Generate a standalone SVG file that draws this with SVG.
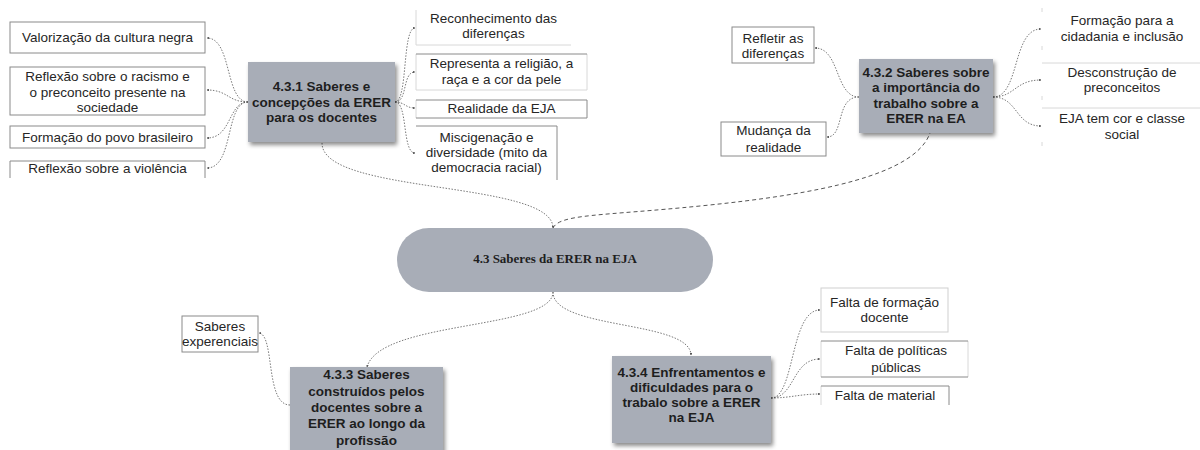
<svg xmlns="http://www.w3.org/2000/svg" width="1200" height="450" viewBox="0 0 1200 450">
<style>
.node{fill:#a8adb7;filter:url(#sh)}
.nt{font-family:"Liberation Sans",Arial,sans-serif;font-weight:bold;font-size:13.5px;fill:#1e1e1e;text-anchor:middle}
.bt{font-family:"Liberation Sans",Arial,sans-serif;font-size:13.5px;fill:#262626;text-anchor:middle}
.box{fill:#fff;stroke:#8a8a8a;stroke-width:1}
.bd{stroke:#8a8a8a;stroke-width:1;fill:none}
.bl{stroke:#d8d8d8;stroke-width:1;fill:none}
.c{fill:none;stroke:#555;stroke-width:0.8;stroke-dasharray:1.5 1.5;marker-end:url(#ah)}
.cd{fill:none;stroke:#555;stroke-width:1;stroke-dasharray:4 3}
</style>
<defs>
<filter id="sh" x="-10%" y="-10%" width="125%" height="130%">
<feDropShadow dx="2" dy="3" stdDeviation="2" flood-color="#000" flood-opacity="0.45"/>
</filter>
<marker id="ah" viewBox="0 0 6 6" refX="5" refY="3" markerWidth="3" markerHeight="3" orient="auto">
<path d="M0,0 L6,3 L0,6 z" fill="#555"/>
</marker>
</defs>
<rect width="1200" height="450" fill="#fff"/>

<g id="connectors">
<path class="c" d="M322,143 C322,195 553,180 553,228"/>
<path class="cd" d="M553,228 C560,214 600,216 700,206 C820,194 915,175 930,133"/>
<path class="c" d="M553,292 C553,330 380,320 367,367"/>
<path class="c" d="M553,292 C553,330 690,320 691,355"/>
<path class="c" d="M290,405 C265,405 275,335 259,333"/>
<path class="c" d="M248,102 C225,102 232,38 207,38"/>
<path class="c" d="M248,102 C228,102 228,90 207,90"/>
<path class="c" d="M248,102 C228,102 232,138 207,138"/>
<path class="c" d="M248,102 C225,102 234,168 207,168"/>
<path class="c" d="M395,102 C408,102 402,28 415,28"/>
<path class="c" d="M395,102 C408,102 402,72 415,72"/>
<path class="c" d="M395,102 C405,102 405,108 415,108"/>
<path class="c" d="M395,102 C408,102 402,153 415,153"/>
<path class="c" d="M859,97 C835,97 840,48 815,48"/>
<path class="c" d="M859,97 C835,97 845,137 827,137"/>
<path class="c" d="M993,97 C1020,97 1012,29 1041,29"/>
<path class="c" d="M993,97 C1015,97 1015,80 1041,80"/>
<path class="c" d="M993,97 C1018,97 1015,126 1041,126"/>
<path class="c" d="M771,398 C795,398 790,310 820,310"/>
<path class="c" d="M771,398 C795,398 792,359 820,359"/>
<path class="c" d="M771,398 C790,398 800,394 820,394"/>
</g>

<g id="n43">
<rect class="node" x="397" y="228" width="316" height="64" rx="32" ry="32" style="filter:none"/>
<text x="555" y="263" style="font-family:'Liberation Serif','Times New Roman',serif;font-weight:bold;font-size:13px;fill:#1e1e1e;text-anchor:middle">4.3 Saberes da ERER na EJA</text>
</g>

<g id="n431">
<rect class="node" x="248" y="62" width="147" height="80"/>
<text class="nt" x="321.5" y="91">4.3.1 Saberes e</text>
<text class="nt" x="321.5" y="107">concepções da ERER</text>
<text class="nt" x="321.5" y="122">para os docentes</text>
</g>

<g id="b431a"><rect class="box" x="10" y="22" width="195" height="31"/><text class="bt" x="107.5" y="42">Valorização da cultura negra</text></g>
<g id="b431b"><rect class="box" x="10" y="67" width="195" height="48"/><text class="bt" x="107.5" y="81">Reflexão sobre o racismo e</text><text class="bt" x="107.5" y="97">o preconceito presente na</text><text class="bt" x="107.5" y="112">sociedade</text></g>
<g id="b431c"><rect class="box" x="10" y="126" width="195" height="22"/><text class="bt" x="107.5" y="142">Formação do povo brasileiro</text></g>
<g id="b431d"><path class="bd" d="M10,178 V161 H205 V178"/><text class="bt" x="107.5" y="173">Reflexão sobre a violência</text></g>

<g id="b431e"><path class="bl" d="M416,10 V45 H571"/><text class="bt" x="493.5" y="23">Reconhecimento das</text><text class="bt" x="493.5" y="38">diferenças</text></g>
<g id="b431f"><path class="bl" d="M416,54 V90 H587 V54"/><path class="bd" d="M416,54 H587"/><text class="bt" x="501.5" y="68">Representa a religião, a</text><text class="bt" x="501.5" y="84">raça e a cor da pele</text></g>
<g id="b431g"><path class="bl" d="M416,100 V118"/><path class="bd" d="M416,100 H587 V118 H416"/><text class="bt" x="501.5" y="113">Realidade da EJA</text></g>
<g id="b431h"><path class="bd" d="M416,126 H557 V180"/><text class="bt" x="486.5" y="142">Miscigenação e</text><text class="bt" x="486.5" y="157">diversidade (mito da</text><text class="bt" x="486.5" y="172">democracia racial)</text></g>

<g id="n432">
<rect class="node" x="859" y="59" width="134" height="74"/>
<text class="nt" x="926" y="77">4.3.2 Saberes sobre</text>
<text class="nt" x="926" y="92">a importância do</text>
<text class="nt" x="926" y="108">trabalho sobre a</text>
<text class="nt" x="926" y="123">ERER na EA</text>
</g>
<g id="b432a"><rect class="box" x="732" y="27" width="82" height="36"/><text class="bt" x="773" y="43">Refletir as</text><text class="bt" x="773" y="58">diferenças</text></g>
<g id="b432b"><rect class="box" x="721" y="122" width="105" height="34"/><text class="bt" x="773.5" y="135">Mudança da</text><text class="bt" x="773.5" y="152">realidade</text></g>
<g id="b432c"><path class="bl" d="M1042,8 V12 M1042,46 V50"/><text class="bt" x="1122" y="25">Formação para a</text><text class="bt" x="1122" y="41">cidadania e inclusão</text></g>
<g id="b432d"><path class="bl" d="M1042,63 H1200 M1042,96 V100"/><text class="bt" x="1122" y="77">Desconstrução de</text><text class="bt" x="1122" y="92">preconceitos</text></g>
<g id="b432e"><path class="bl" d="M1042,108 H1200 M1042,142 V146"/><text class="bt" x="1122" y="123">EJA tem cor e classe</text><text class="bt" x="1122" y="139">social</text></g>

<g id="n433">
<rect class="node" x="290" y="367" width="153" height="90"/>
<text class="nt" x="366.5" y="379">4.3.3 Saberes</text>
<text class="nt" x="366.5" y="396">construídos pelos</text>
<text class="nt" x="366.5" y="412">docentes sobre a</text>
<text class="nt" x="366.5" y="428">ERER ao longo da</text>
<text class="nt" x="366.5" y="445">profissão</text>
</g>
<g id="b433a"><rect class="box" x="182" y="316" width="76" height="36"/><text class="bt" x="220" y="331">Saberes</text><text class="bt" x="220" y="346">experenciais</text></g>

<g id="n434">
<rect class="node" x="612" y="356" width="159" height="87"/>
<text class="nt" x="691.5" y="377">4.3.4 Enfrentamentos e</text>
<text class="nt" x="691.5" y="392">dificuldades para o</text>
<text class="nt" x="691.5" y="407">trabalo sobre a ERER</text>
<text class="nt" x="691.5" y="422">na EJA</text>
</g>
<g id="b434a"><rect x="821" y="288" width="127" height="44" fill="#fff" stroke="#cfcfcf"/><text class="bt" x="884.5" y="307">Falta de formação</text><text class="bt" x="884.5" y="322">docente</text></g>
<g id="b434b"><path class="bl" d="M821,341 V377 M968,341 V377"/><path class="bd" d="M821,341 H968 M821,377 H968"/><text class="bt" x="896" y="355">Falta de políticas</text><text class="bt" x="896" y="372">públicas</text></g>
<g id="b434c"><path class="bl" d="M821,386 V405"/><path class="bd" d="M821,386 H949 V405"/><text class="bt" x="885" y="400">Falta de material</text></g>
</svg>
